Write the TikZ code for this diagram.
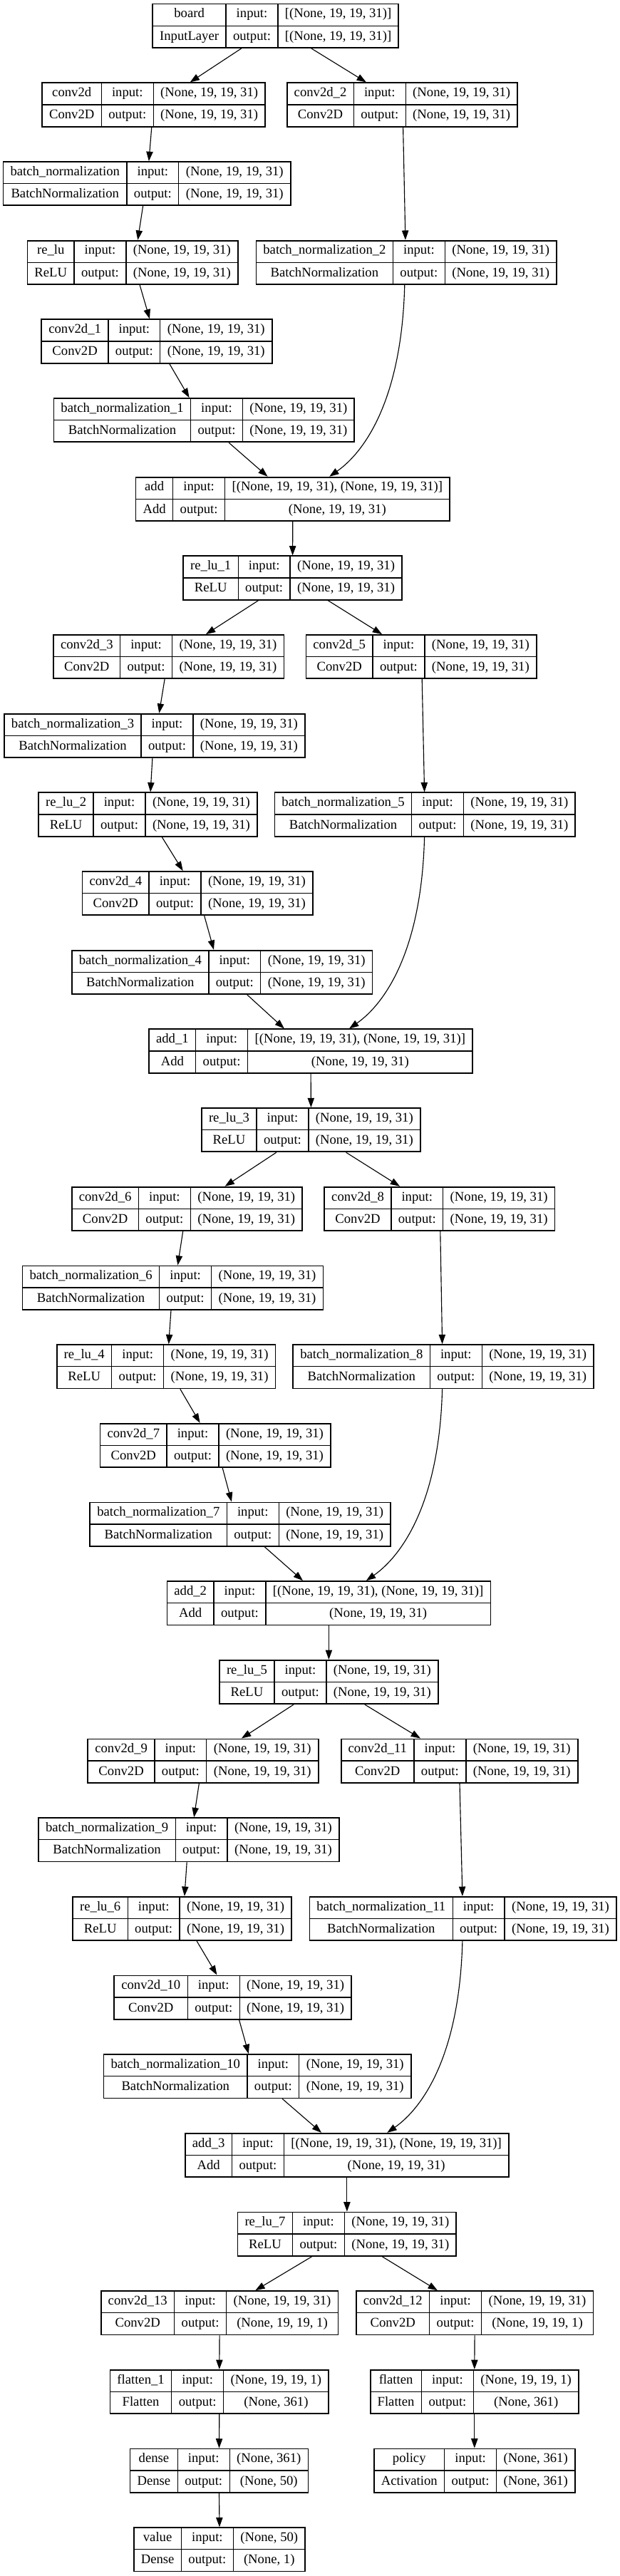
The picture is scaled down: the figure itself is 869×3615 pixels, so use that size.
\documentclass[tikz,border=0pt]{standalone}
\usepackage{fontspec}
\setmainfont{Liberation Serif}
\usetikzlibrary{arrows.meta,calc}
\setlength{\tabcolsep}{7.5pt}
\setlength{\arrayrulewidth}{1pt}
\newcommand{\rowstrut}{\rule[-8pt]{0pt}{22.5pt}}
% name, x, y, label, class, input, output
\newcommand{\klayer}[7]{%
  \node[layerbox] (#1) at (#2,#3) {\begin{tabular}{c|c|c}\rowstrut #4 & input: & #6\\\hline\rowstrut #5 & output: & #7\end{tabular}};}
\newcommand{\kedge}[4]{\draw[edge] ($(#1.south)+(#2,0)$) -- ($(#3.north)+(#4,0)$);}
\newcommand{\kskip}[4]{\draw[edge] ($(#1.south)+(#2,0)$) .. controls ($(#1.south)+({#2-4},160)$) and ($(#3.north)+({#4+50},-35)$) .. ($(#3.north)+(#4,0)$);}
\newcommand{\sh}{(None, 19, 19, 31)}
\newcommand{\shh}{[(None, 19, 19, 31), (None, 19, 19, 31)]}
\begin{document}
\begin{tikzpicture}[x=0.75pt,y=-0.75pt,
  layerbox/.style={draw=black, line width=1.3pt, inner sep=0pt, fill=white, font=\fontsize{14pt}{16pt}\selectfont},
  edge/.style={draw=black, line width=0.85pt, -{Triangle[length=10pt,width=7pt]}}]
\useasboundingbox[fill=white] (0,0) rectangle (869,3615);
\klayer{board}{386.7}{36.3}{board}{InputLayer}{[(None, 19, 19, 31)]}{[(None, 19, 19, 31)]}
\klayer{cv0}{215.6}{146.97}{conv2d}{Conv2D}{\sh}{\sh}
\klayer{cv2}{564.4}{146.97}{conv2d\_2}{Conv2D}{\sh}{\sh}
\klayer{bn0}{206.1}{257.64}{batch\_normalization}{BatchNormalization}{\sh}{\sh}
\klayer{rl0}{186.1}{368.31}{re\_lu}{ReLU}{\sh}{\sh}
\klayer{bn2}{570.3}{368.31}{batch\_normalization\_2}{BatchNormalization}{\sh}{\sh}
\klayer{cv1}{220}{478.98}{conv2d\_1}{Conv2D}{\sh}{\sh}
\klayer{bn1}{286.4}{589.65}{batch\_normalization\_1}{BatchNormalization}{\sh}{\sh}
\klayer{ad0}{410.8}{700.32}{add}{Add}{\shh}{\sh}
\klayer{rl1}{410.6}{810.99}{re\_lu\_1}{ReLU}{\sh}{\sh}
\klayer{cv3}{236.7}{921.66}{conv2d\_3}{Conv2D}{\sh}{\sh}
\klayer{cv5}{591.1}{921.66}{conv2d\_5}{Conv2D}{\sh}{\sh}
\klayer{bn3}{216.9}{1032.33}{batch\_normalization\_3}{BatchNormalization}{\sh}{\sh}
\klayer{rl2}{207.5}{1143.0}{re\_lu\_2}{ReLU}{\sh}{\sh}
\klayer{bn5}{596.4}{1143.0}{batch\_normalization\_5}{BatchNormalization}{\sh}{\sh}
\klayer{cv4}{277.2}{1253.67}{conv2d\_4}{Conv2D}{\sh}{\sh}
\klayer{bn4}{311.7}{1364.34}{batch\_normalization\_4}{BatchNormalization}{\sh}{\sh}
\klayer{ad1}{436.1}{1475.01}{add\_1}{Add}{\shh}{\sh}
\klayer{rl3}{436.4}{1585.68}{re\_lu\_3}{ReLU}{\sh}{\sh}
\klayer{cv6}{262.5}{1696.35}{conv2d\_6}{Conv2D}{\sh}{\sh}
\klayer{cv8}{616.9}{1696.35}{conv2d\_8}{Conv2D}{\sh}{\sh}
\klayer{bn6}{242.5}{1807.02}{batch\_normalization\_6}{BatchNormalization}{\sh}{\sh}
\klayer{rl4}{233.1}{1917.69}{re\_lu\_4}{ReLU}{\sh}{\sh}
\klayer{bn8}{622.2}{1917.69}{batch\_normalization\_8}{BatchNormalization}{\sh}{\sh}
\klayer{cv7}{302.2}{2028.36}{conv2d\_7}{Conv2D}{\sh}{\sh}
\klayer{bn7}{337.2}{2139.03}{batch\_normalization\_7}{BatchNormalization}{\sh}{\sh}
\klayer{ad2}{461.4}{2249.7}{add\_2}{Add}{\shh}{\sh}
\klayer{rl5}{461.4}{2360.37}{re\_lu\_5}{ReLU}{\sh}{\sh}
\klayer{cv9}{285}{2471.04}{conv2d\_9}{Conv2D}{\sh}{\sh}
\klayer{cv11}{644.7}{2471.04}{conv2d\_11}{Conv2D}{\sh}{\sh}
\klayer{bn9}{265}{2581.71}{batch\_normalization\_9}{BatchNormalization}{\sh}{\sh}
\klayer{rl6}{255.6}{2692.38}{re\_lu\_6}{ReLU}{\sh}{\sh}
\klayer{bn11}{649.7}{2692.38}{batch\_normalization\_11}{BatchNormalization}{\sh}{\sh}
\klayer{cv10}{326.7}{2803.05}{conv2d\_10}{Conv2D}{\sh}{\sh}
\klayer{bn10}{361.1}{2913.72}{batch\_normalization\_10}{BatchNormalization}{\sh}{\sh}
\klayer{ad3}{486.9}{3024.39}{add\_3}{Add}{\shh}{\sh}
\klayer{rl7}{486.9}{3135.06}{re\_lu\_7}{ReLU}{\sh}{\sh}
\klayer{cv13}{308.1}{3245.73}{conv2d\_13}{Conv2D}{\sh}{(None, 19, 19, 1)}
\klayer{cv12}{666.1}{3245.73}{conv2d\_12}{Conv2D}{\sh}{(None, 19, 19, 1)}
\klayer{fl1}{307.8}{3356.4}{flatten\_1}{Flatten}{(None, 19, 19, 1)}{(None, 361)}
\klayer{fl0}{665.8}{3356.4}{flatten}{Flatten}{(None, 19, 19, 1)}{(None, 361)}
\klayer{dense}{307.5}{3467.07}{dense}{Dense}{(None, 361)}{(None, 50)}
\klayer{policy}{665.8}{3467.07}{policy}{Activation}{(None, 361)}{(None, 361)}
\klayer{value}{308}{3577.74}{value}{Dense}{(None, 50)}{(None, 1)}
% edges
\kedge{board}{-47.8}{cv0}{51}
\kedge{board}{50}{cv2}{-50.5}
\kedge{cv0}{-2.8}{bn0}{2.8}
\kedge{cv2}{1.2}{bn2}{-1.4}
\kedge{bn0}{-5.5}{rl0}{7.2}
\kedge{rl0}{10}{cv1}{-10}
\kedge{cv1}{17.8}{bn1}{-20.8}
\kedge{bn1}{34.7}{ad0}{-35.2}
\kskip{bn2}{-2.5}{ad0}{51.4}
\kedge{ad0}{0}{rl1}{0}
\kedge{rl1}{-47.8}{cv3}{52.2}
\kedge{rl1}{49.4}{cv5}{-55}
\kedge{cv3}{-5.6}{bn3}{6.4}
\kedge{cv5}{1.1}{bn5}{-0.8}
\kedge{bn3}{-3}{rl2}{3.6}
\kedge{rl2}{19.7}{cv4}{-20.5}
\kedge{cv4}{9.5}{bn4}{-11.7}
\kedge{bn4}{35}{ad1}{-37.2}
\kskip{bn5}{-0.8}{ad1}{53.9}
\kedge{ad1}{0}{rl3}{0}
\kedge{rl3}{-48.6}{cv6}{53.1}
\kedge{rl3}{49.2}{cv8}{-55.8}
\kedge{cv6}{-5.8}{bn6}{6.9}
\kedge{cv8}{0.9}{bn8}{-1.6}
\kedge{bn6}{-2.5}{rl4}{3.6}
\kedge{rl4}{19.7}{cv7}{-21.6}
\kedge{cv7}{10}{bn7}{-12.2}
\kedge{bn7}{33.9}{ad2}{-36.4}
\kskip{bn8}{-1.6}{ad2}{52.5}
\kedge{ad2}{0}{rl5}{0}
\kedge{rl5}{-49.2}{cv9}{53.9}
\kedge{rl5}{50.3}{cv11}{-54.7}
\kedge{cv9}{-5.6}{bn9}{7.2}
\kedge{cv11}{0.3}{bn11}{-0.8}
\kedge{bn9}{-2.8}{rl6}{3.3}
\kedge{rl6}{20.5}{cv10}{-22.3}
\kedge{cv10}{8.9}{bn10}{-12.2}
\kedge{bn10}{35}{ad3}{-35.8}
\kskip{bn11}{-0.8}{ad3}{56.4}
\kedge{ad3}{0}{rl7}{0}
\kedge{rl7}{-49.1}{cv13}{50.2}
\kedge{rl7}{49.2}{cv12}{-52.2}
\kedge{cv13}{0}{fl1}{0}
\kedge{fl1}{0}{dense}{0}
\kedge{dense}{0}{value}{0}
\kedge{cv12}{0}{fl0}{0}
\kedge{fl0}{0}{policy}{0}
\end{tikzpicture}
\end{document}
